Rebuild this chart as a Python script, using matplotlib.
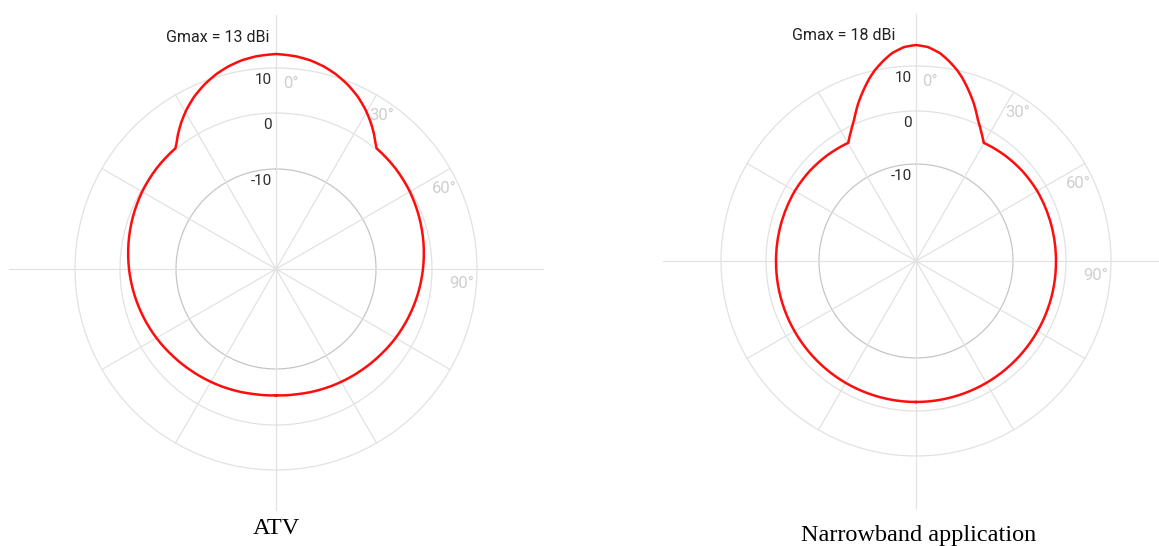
import numpy as np
import matplotlib
matplotlib.use("Agg")
import matplotlib.pyplot as plt

W, H, DPI = 1159, 546, 100

# --- data (one side, pattern is symmetric about 0 deg) ---
atv_angles = [0, 5.35, 9.28, 13.19, 17.13, 21.13, 25.26, 29.21, 32.85, 36.04, 38.09,
              39.8, 50, 60, 70, 80, 90, 100, 110, 120, 130, 140, 150, 160, 170, 180]
atv_gain = [13.0, 12.7, 12.25, 11.54, 10.58, 9.33, 7.78, 6.0, 4.13, 2.36, 1.11,
            0.25, 0.04, -0.25, -0.66, -1.11, -1.61, -2.14, -2.68, -3.21, -3.75,
            -4.21, -4.59, -4.91, -5.18, -5.29]

nb_angles = [0, 3.2, 6.6, 9.05, 12.1, 14.1, 16.3, 20.1, 23.7, 26.6, 29.8, 40, 50, 60,
             90, 120, 150, 180]
nb_gain = [18.0, 17.35, 15.4, 13.2, 10.15, 8.7, 7.0, 4.0, 0.9, -0.9, -2.6, -2.26,
           -2.02, -1.89, -1.89, -1.83, -1.75, -1.7]

ring_levels = [-10, 0, 10]
spoke_angles = [30, 60, 120, 150, 210, 240, 300, 330]
angle_labels = [0, 30, 60, 90]

charts = [
    dict(title="ATV", gmax=13, angles=atv_angles, gain=atv_gain,
         scale_db=[-10, 0, 10, 13], scale_px=[100, 156, 201, 215],
         center=(276, 269), radius=267, cross=(254, 267, 241, 267),
         gmax_off=(-7, 16), title_xy=(276, 529)),
    dict(title="Narrowband application", gmax=18, angles=nb_angles, gain=nb_gain,
         scale_db=[-10, 0, 10, 18], scale_px=[97, 150, 195, 216],
         center=(916, 261), radius=253, cross=(247, 253, 247, 253),
         gmax_off=(-20, 9), title_xy=(919, 536)),
]

GRID = "#e2e2e2"
RING_DARK = "#c6c6c6"
LABEL_LIGHT = "#cfcfcf"
LABEL_DARK = "#2b2b2b"


def make_scale(db_pts, px_pts):
    db = np.asarray(db_pts, float)
    px = np.asarray(px_pts, float)

    def lin(v, xs, ys):
        v = np.asarray(v, float)
        out = np.interp(v, xs, ys)
        lo_slope = (ys[1] - ys[0]) / (xs[1] - xs[0])
        hi_slope = (ys[-1] - ys[-2]) / (xs[-1] - xs[-2])
        out = np.where(v < xs[0], ys[0] + (v - xs[0]) * lo_slope, out)
        out = np.where(v > xs[-1], ys[-1] + (v - xs[-1]) * hi_slope, out)
        return out

    return (lambda v: lin(v, db, px)), (lambda p: lin(p, px, db))


fig = plt.figure(figsize=(W / DPI, H / DPI), dpi=DPI)

for c in charts:
    fwd, inv = make_scale(c["scale_db"], c["scale_px"])
    cx, cy = c["center"]
    R = c["radius"]
    ax = fig.add_axes([(cx - R) / W, (H - cy - R) / H, 2 * R / W, 2 * R / H],
                      projection="polar")
    ax.set_theta_zero_location("N")
    ax.set_theta_direction(-1)
    ax.set_rscale("function", functions=(fwd, inv))
    r0 = float(inv(0))
    ax.set_rlim(r0, float(inv(R)))
    ax.grid(False)
    ax.set_xticks([])
    ax.set_yticks([])
    ax.spines["polar"].set_visible(False)
    ax.patch.set_alpha(0)

    # rings
    th = np.linspace(0, 2 * np.pi, 721)
    for lvl in ring_levels:
        col = RING_DARK if lvl == ring_levels[0] else GRID
        ax.plot(th, np.full_like(th, lvl), color=col, lw=0.9, zorder=1)
    # spokes up to outer ring
    for a in spoke_angles:
        ax.plot([np.radians(a)] * 2, [r0, ring_levels[-1]], color=GRID, lw=0.9, zorder=1)
    # main cross lines (top, right, bottom, left)
    for a, ln in zip([0, 90, 180, 270], c["cross"]):
        ax.plot([np.radians(a)] * 2, [r0, float(inv(ln))], color=GRID, lw=0.9,
                zorder=1, clip_on=False)

    # ring value labels
    for lvl in ring_levels:
        ax.annotate(str(lvl), xy=(0, lvl), xytext=(-4, -12), textcoords="offset pixels",
                    ha="right", va="center", fontsize=11, color=LABEL_DARK,
                    family="Roboto")
    # angle labels
    r_lab = float(inv(c["scale_px"][2] - 15))
    for a in angle_labels:
        ax.text(np.radians(a + 4.5), r_lab, f"{a}°", ha="center", va="center",
                fontsize=12, color=LABEL_LIGHT, family="Roboto")

    # pattern, mirrored about boresight
    ang = np.asarray(c["angles"], float)
    g = np.asarray(c["gain"], float)
    full_ang = np.concatenate([-ang[::-1], ang[1:]])
    full_g = np.concatenate([g[::-1], g[1:]])
    line, = ax.plot(np.radians(full_ang), full_g, color="#ff0d0d", lw=1.8, zorder=3)
    line.get_path()._interpolation_steps = 12  # draw arcs between samples

    ax.annotate(f"Gmax = {c['gmax']} dBi", xy=(0, c["gmax"]), xytext=c["gmax_off"],
                textcoords="offset pixels", ha="right", va="center", fontsize=11.5,
                color="#222222", family="Roboto")

    tx, ty = c["title_xy"]
    fig.text(tx / W, 1 - ty / H, c["title"], ha="center", va="center", fontsize=17.5,
             family="Liberation Serif", color="black")

fig.savefig("out.png", dpi=DPI)
